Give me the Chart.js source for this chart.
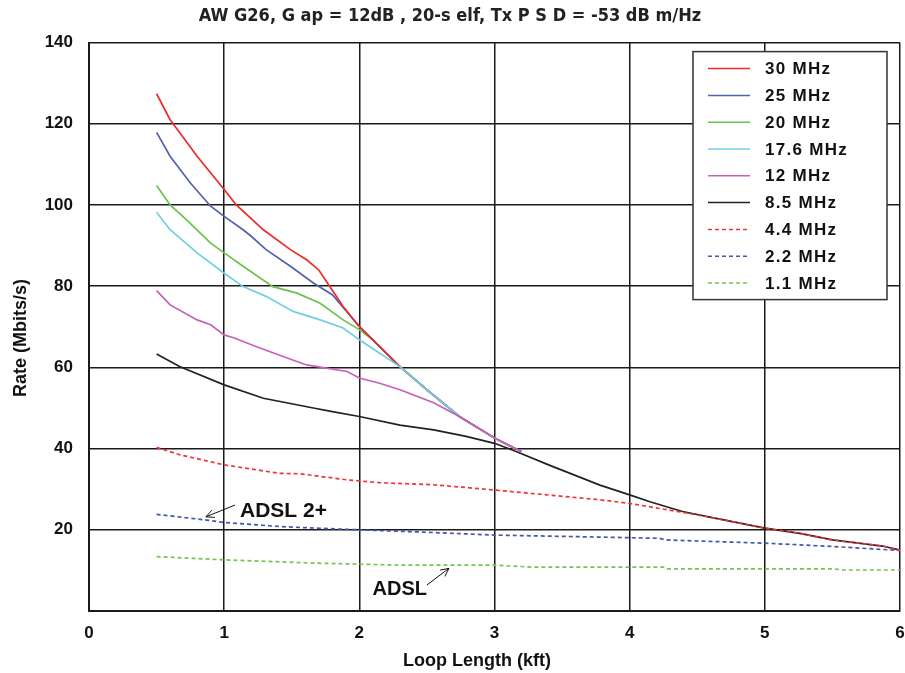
<!DOCTYPE html>
<html>
<head>
<meta charset="utf-8">
<script src="https://cdn.jsdelivr.net/npm/chart.js@4.4.1/dist/chart.umd.min.js"></script>
<style>
  html, body { margin: 0; padding: 0; background: #fff; }
  #wrap { width: 905px; height: 673px; }
</style>
</head>
<body>
<div id="wrap"><canvas id="rateChart" width="905" height="673"></canvas></div>
<script>
// loop length (kft) and rate (Mbits/s) for each VDSL bandwidth
var loop30 = [0.5, 0.6, 0.64, 0.8, 1.0, 1.09, 1.29, 1.49, 1.61, 1.7, 1.78, 1.88, 2.0, 2.1, 2.3, 2.5, 2.74, 3.0, 3.16];
var rate30 = [127.4, 121, 119.2, 112, 103.8, 100, 93.9, 89, 86.5, 84, 80, 75, 70, 66.8, 60.2, 54.5, 47.9, 42.6, 39.8];

var loop25 = [0.5, 0.6, 0.75, 0.9, 1.0, 1.14, 1.2, 1.31, 1.49, 1.66, 1.8, 2.0, 2.1, 2.3, 2.5, 2.74, 3.0, 3.2];
var rate25 = [117.9, 112, 105.4, 99.7, 97.2, 93.9, 92.3, 89, 84.9, 80.8, 77.9, 70.1, 66.8, 60.2, 54.5, 47.9, 42.6, 39.3];

var loop20 = [0.5, 0.6, 0.72, 0.9, 1.0, 1.14, 1.36, 1.54, 1.71, 1.88, 2.0, 2.1, 2.3, 2.5, 2.74, 3.0, 3.15];
var rate20 = [104.8, 100, 96.4, 90.6, 88.2, 84.9, 79.9, 78.3, 75.8, 71.7, 69.3, 66.8, 60.2, 54.5, 47.9, 42.6, 40];

var loop176 = [0.5, 0.6, 0.8, 1.0, 1.14, 1.31, 1.51, 1.71, 1.88, 2.0, 2.15, 2.3, 2.5, 2.74, 3.0, 3.15];
var rate176 = [98.2, 93.9, 88.2, 83.2, 79.9, 77.5, 73.8, 71.7, 69.7, 66.8, 63.5, 60.2, 54.5, 47.9, 42.6, 40];

var loop12 = [0.5, 0.6, 0.8, 0.9, 1.0, 1.07, 1.24, 1.41, 1.61, 1.91, 2.0, 2.15, 2.3, 2.55, 2.74, 3.0, 3.2];
var rate12 = [78.9, 75.4, 71.7, 70.5, 68.0, 67.3, 65.1, 63, 60.6, 59, 57.4, 56.1, 54.5, 51.3, 47.9, 42.6, 39.3];

var loop85 = [0.5, 0.67, 1.0, 1.29, 1.66, 1.8, 2.0, 2.3, 2.55, 2.79, 3.0, 3.16, 3.4, 3.78, 4.0, 4.15, 4.39, 4.64, 5.0, 5.26, 5.5, 5.87, 6.0];
var rate85 = [63.3, 60.2, 55.7, 52.4, 50, 49.1, 47.9, 45.8, 44.6, 43, 41.3, 39.3, 36, 31, 28.6, 26.9, 24.5, 22.8, 20.4, 19.1, 17.5, 16.0, 15.0];

var loop44 = [0.5, 0.67, 1.0, 1.41, 1.56, 1.91, 2.15, 2.55, 3.0, 3.78, 4.0, 4.39, 4.64, 5.0, 5.26, 5.5, 5.87, 6.0];
var rate44 = [40.3, 38.5, 36.0, 33.9, 33.8, 32.3, 31.6, 31.1, 29.8, 27.4, 26.5, 24.3, 22.8, 20.4, 19.1, 17.5, 16.0, 15.0];

var loop22 = [0.5, 0.87, 1.0, 1.41, 1.91, 2.15, 2.42, 3.0, 3.78, 4.22, 4.27, 5.0, 5.5, 6.0];
var rate22 = [23.8, 22.4, 21.8, 20.8, 20.1, 19.8, 19.5, 18.7, 18.2, 17.9, 17.5, 16.7, 15.9, 14.9];

var loop11 = [0.5, 1.0, 1.66, 2.3, 3.0, 3.28, 4.25, 4.27, 5.5, 5.58, 6.0];
var rate11 = [13.4, 12.6, 11.8, 11.3, 11.3, 10.8, 10.8, 10.4, 10.4, 10.1, 10.1];

var seriesLabels = ['30 MHz', '25 MHz', '20 MHz', '17.6 MHz', '12 MHz', '8.5 MHz', '4.4 MHz', '2.2 MHz', '1.1 MHz'];
var seriesColors = ['#ee2a2a', '#5262ad', '#6cc24a', '#6fd0e2', '#c462b8', '#222222', '#f03434', '#4656aa', '#72c652'];
// lower draws on top: 12 and 17.6 sit over the merged part, 8.5 under the dashed tail
var seriesOrder = [1, 1, 1, 0.5, 0, 2, 1, 1, 1];

// annotation labels, in data units: text left/middle, arrow tail, arrow tip
var noteText = ['ADSL 2+', 'ADSL'];
var noteSize = [21, 20];
var noteAt = [[1.117, 24.7], [2.098, 5.4]];
var arrowFrom = [[1.08, 26.1], [2.50, 6.4]];
var arrowTo = [[0.865, 23.2], [2.663, 10.5]];

var FONT = '"Liberation Sans", Arial, sans-serif';

function points(xs, ys) {
    return xs.map(function (x, i) { return { x: x, y: ys[i] }; });
}

function makeSet(i, xs, ys, dashed) {
    return {
        label: seriesLabels[i],
        data: points(xs, ys),
        borderColor: seriesColors[i],
        backgroundColor: seriesColors[i],
        borderWidth: 1.7,
        borderDash: dashed ? [4, 3] : [],
        pointRadius: 0,
        tension: 0,
        fill: false,
        order: seriesOrder[i]
    };
}

var boxLegend = {
    id: 'boxLegend',
    afterDraw: function (chart) {
        var ctx = chart.ctx;
        var area = chart.chartArea;
        var bx = area.right - 207, by = area.top + 9, bw = 194, bh = 248;
        ctx.save();
        ctx.fillStyle = '#fff';
        ctx.fillRect(bx, by, bw, bh);
        ctx.strokeStyle = '#333';
        ctx.lineWidth = 1.5;
        ctx.strokeRect(bx, by, bw, bh);
        ctx.font = 'bold 17px ' + FONT;
        ctx.letterSpacing = '1.3px';
        ctx.textBaseline = 'middle';
        chart.data.datasets.forEach(function (ds, i) {
            var ry = by + 17 + i * 26.8;
            ctx.beginPath();
            ctx.setLineDash(ds.borderDash);
            ctx.strokeStyle = ds.borderColor;
            ctx.lineWidth = 1.5;
            ctx.moveTo(bx + 15, ry);
            ctx.lineTo(bx + 57, ry);
            ctx.stroke();
            ctx.setLineDash([]);
            ctx.fillStyle = '#111';
            ctx.fillText(ds.label, bx + 72, ry + 1);
        });
        ctx.restore();
    }
};

var notes = {
    id: 'notes',
    afterDatasetsDraw: function (chart) {
        var ctx = chart.ctx;
        var sx = chart.scales.x, sy = chart.scales.y;
        ctx.save();
        ctx.fillStyle = '#111';
        ctx.strokeStyle = '#111';
        ctx.lineWidth = 1;
        ctx.textBaseline = 'middle';
        noteText.forEach(function (t, i) {
            ctx.font = 'bold ' + noteSize[i] + 'px ' + FONT;
            ctx.fillText(t, sx.getPixelForValue(noteAt[i][0]), sy.getPixelForValue(noteAt[i][1]));
            var x0 = sx.getPixelForValue(arrowFrom[i][0]), y0 = sy.getPixelForValue(arrowFrom[i][1]);
            var x1 = sx.getPixelForValue(arrowTo[i][0]), y1 = sy.getPixelForValue(arrowTo[i][1]);
            var a = Math.atan2(y1 - y0, x1 - x0);
            ctx.beginPath();
            ctx.moveTo(x0, y0);
            ctx.lineTo(x1, y1);
            ctx.moveTo(x1 - 9 * Math.cos(a - 0.45), y1 - 9 * Math.sin(a - 0.45));
            ctx.lineTo(x1, y1);
            ctx.lineTo(x1 - 9 * Math.cos(a + 0.45), y1 - 9 * Math.sin(a + 0.45));
            ctx.stroke();
        });
        ctx.restore();
    }
};

var axisTitles = {
    id: 'axisTitles',
    afterDraw: function (chart) {
        var ctx = chart.ctx;
        ctx.save();
        ctx.fillStyle = '#111';
        ctx.font = 'bold 18px ' + FONT;
        ctx.textAlign = 'center';
        ctx.textBaseline = 'middle';
        ctx.fillText('Loop Length (kft)', 477, 661);
        ctx.translate(21, 338);
        ctx.rotate(-Math.PI / 2);
        ctx.fillText('Rate (Mbits/s)', 0, 0);
        ctx.restore();
    }
};

var ctx = document.getElementById('rateChart').getContext('2d');
new Chart(ctx, {
    type: 'line',
    data: {
        datasets: [
            makeSet(0, loop30, rate30, false),
            makeSet(1, loop25, rate25, false),
            makeSet(2, loop20, rate20, false),
            makeSet(3, loop176, rate176, false),
            makeSet(4, loop12, rate12, false),
            makeSet(5, loop85, rate85, false),
            makeSet(6, loop44, rate44, true),
            makeSet(7, loop22, rate22, true),
            makeSet(8, loop11, rate11, true)
        ]
    },
    options: {
        responsive: false,
        animation: false,
        layout: { padding: { left: 0, right: 5, top: 0, bottom: 0 } },
        plugins: {
            legend: { display: false },
            tooltip: { enabled: false },
            title: {
                display: true,
                text: 'AW G26, G ap = 12dB , 20-s elf, Tx P S D = -53 dB m/Hz',
                color: '#222',
                font: { family: '"Liberation Sans Narrow", "DejaVu Sans Condensed", sans-serif', size: 18, weight: 'bold' },
                padding: { top: 6, bottom: 15 }
            }
        },
        scales: {
            x: {
                type: 'linear',
                min: 0,
                max: 6,
                afterFit: function (scale) {
                    scale.height = 62;
                    scale.paddingRight = 0;
                    scale.paddingLeft = 0;
                },
                ticks: {
                    stepSize: 1,
                    color: '#111',
                    padding: 12,
                    font: { family: FONT, size: 17, weight: 'bold' }
                },
                grid: { color: '#1a1a1a', lineWidth: 1.5, drawTicks: false },
                border: { color: '#1a1a1a', width: 2 }
            },
            y: {
                min: 0,
                max: 140,
                afterFit: function (scale) { scale.width = 89; },
                ticks: {
                    stepSize: 20,
                    color: '#111',
                    padding: 16,
                    font: { family: FONT, size: 17, weight: 'bold' },
                    callback: function (v) { return v === 0 ? '' : v; }
                },
                grid: { color: '#1a1a1a', lineWidth: 1.5, drawTicks: false },
                border: { color: '#1a1a1a', width: 2 }
            }
        }
    },
    plugins: [notes, boxLegend, axisTitles]
});
</script>
</body>
</html>
